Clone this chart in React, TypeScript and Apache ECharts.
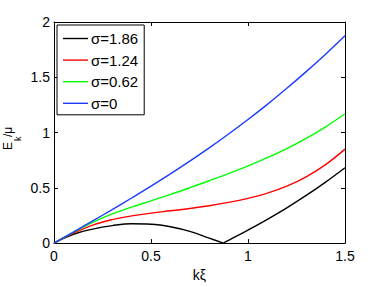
import React, { useEffect, useRef } from "react";
import * as echarts from "echarts";

// Tick labels
const xTicks = [0, 0.5, 1, 1.5];
const yTicks = [0, 0.5, 1, 1.5, 2];

// Series names
const names = ["σ=1.86", "σ=1.24", "σ=0.62", "σ=0"];
const colors = ["#000000", "#ff0000", "#00ff00", "#1a3cff"];

// Common k-grid (kξ)
const kGrid = [0, 0.1, 0.2, 0.3, 0.4, 0.5, 0.6, 0.7, 0.8, 0.9, 1.0, 1.1, 1.2, 1.3, 1.4, 1.5];

// σ=0 (blue)
const sigma0 = [0, 0.1, 0.201, 0.303, 0.408, 0.515, 0.626, 0.741, 0.861, 0.987, 1.118, 1.255, 1.4, 1.551, 1.709, 1.875];
// σ=0.62 (green)
const sigma062 = [0, 0.098, 0.188, 0.264, 0.326, 0.382, 0.44, 0.501, 0.564, 0.629, 0.698, 0.773, 0.855, 0.947, 1.052, 1.17];
// σ=1.24 (red)
const sigma124 = [0, 0.09, 0.163, 0.212, 0.246, 0.271, 0.292, 0.313, 0.338, 0.368, 0.405, 0.452, 0.515, 0.6, 0.71, 0.85];
// σ=1.86 (black), two branches meeting at the zero near kξ≈0.873
const blackLeftK = [0, 0.1, 0.2, 0.3, 0.4, 0.5, 0.6, 0.7, 0.8, 0.873];
const blackLeft = [0, 0.08, 0.127, 0.158, 0.175, 0.171, 0.148, 0.106, 0.045, 0];
const blackRightK = [0.873, 0.9, 1.0, 1.1, 1.2, 1.3, 1.4, 1.5];
const blackRight = [0, 0.025, 0.118, 0.215, 0.319, 0.431, 0.552, 0.682];

const FONT = "'Liberation Sans', Arial, Helvetica, sans-serif";

function pairs(xs: number[], ys: number[]) {
  return xs.map((x, i) => [x, ys[i]]);
}

export default function App() {
  const ref = useRef<HTMLDivElement>(null);
  useEffect(() => {
    document.body.style.margin = "0";
    const chart = echarts.init(ref.current!, null, { renderer: "svg" });
    const axisCommon = {
      axisLine: { onZero: false, lineStyle: { color: "#000", width: 1 } },
      axisTick: { inside: true, length: 4, lineStyle: { color: "#000", width: 1 } },
      splitLine: { show: false },
    };
    const lineSeries = (name: string, color: string, data: number[][]) => ({
      type: "line",
      name,
      data,
      symbol: "none",
      smooth: 0.4,
      lineStyle: { color, width: 1.4 },
      itemStyle: { color },
      xAxisIndex: 0,
      yAxisIndex: 0,
      z: 3,
    });
    chart.setOption({
      animation: false,
      backgroundColor: "#ffffff",
      textStyle: { fontFamily: FONT },
      grid: { left: 54, top: 22, right: 37, bottom: 38 },
      xAxis: [
        {
          type: "value",
          min: xTicks[0],
          max: xTicks[xTicks.length - 1],
          interval: 0.5,
          position: "bottom",
          ...axisCommon,
          axisLabel: { color: "#000", fontSize: 14, margin: 6, fontFamily: FONT },
          name: "kξ",
          nameLocation: "middle",
          nameGap: 19,
          nameTextStyle: { color: "#000", fontSize: 14, fontFamily: FONT },
        },
        {
          type: "value",
          min: xTicks[0],
          max: xTicks[xTicks.length - 1],
          interval: 0.5,
          position: "top",
          ...axisCommon,
          axisLabel: { show: false },
        },
      ],
      yAxis: [
        {
          type: "value",
          min: yTicks[0],
          max: yTicks[yTicks.length - 1],
          interval: 0.5,
          position: "left",
          ...axisCommon,
          axisLabel: { color: "#000", fontSize: 14, margin: 4, fontFamily: FONT },
        },
        {
          type: "value",
          min: yTicks[0],
          max: yTicks[yTicks.length - 1],
          interval: 0.5,
          position: "right",
          ...axisCommon,
          axisLabel: { show: false },
        },
      ],
      legend: {
        data: names,
        orient: "vertical",
        left: 57,
        top: 25,
        padding: [6, 6, 4, 6],
        icon: "path://M0,0L25,0L25,1.4L0,1.4Z",
        itemWidth: 25,
        itemHeight: 14,
        itemGap: 6.6,
        borderColor: "#000",
        borderWidth: 1,
        backgroundColor: "#fff",
        textStyle: { color: "#000", fontSize: 15, fontFamily: FONT, padding: [0, 0, 0, -2] },
      },
      graphic: [
        {
          type: "group",
          x: 12,
          y: 150,
          rotation: Math.PI / 2,
          children: [
            { type: "text", x: 0, y: -4, style: { text: "E", fontSize: 12, fontFamily: FONT, fill: "#000", verticalAlign: "middle", align: "left" } },
            { type: "text", x: 9, y: 6, style: { text: "k", fontSize: 9, fontFamily: FONT, fill: "#000", verticalAlign: "middle", align: "left" } },
            { type: "text", x: 13, y: -4, style: { text: "/μ", fontSize: 12, fontFamily: FONT, fill: "#000", verticalAlign: "middle", align: "left" } },
          ],
        },
      ],
      series: [
        lineSeries(names[0], colors[0], pairs(blackLeftK, blackLeft)),
        lineSeries(names[0], colors[0], pairs(blackRightK, blackRight)),
        lineSeries(names[1], colors[1], pairs(kGrid, sigma124)),
        lineSeries(names[2], colors[2], pairs(kGrid, sigma062)),
        lineSeries(names[3], colors[3], pairs(kGrid, sigma0)),
      ],
    });
    return () => chart.dispose();
  }, []);
  return (
    <div
      ref={ref}
      style={{ position: "fixed", left: 0, top: 0, width: 382, height: 287, background: "#fff" }}
    />
  );
}
